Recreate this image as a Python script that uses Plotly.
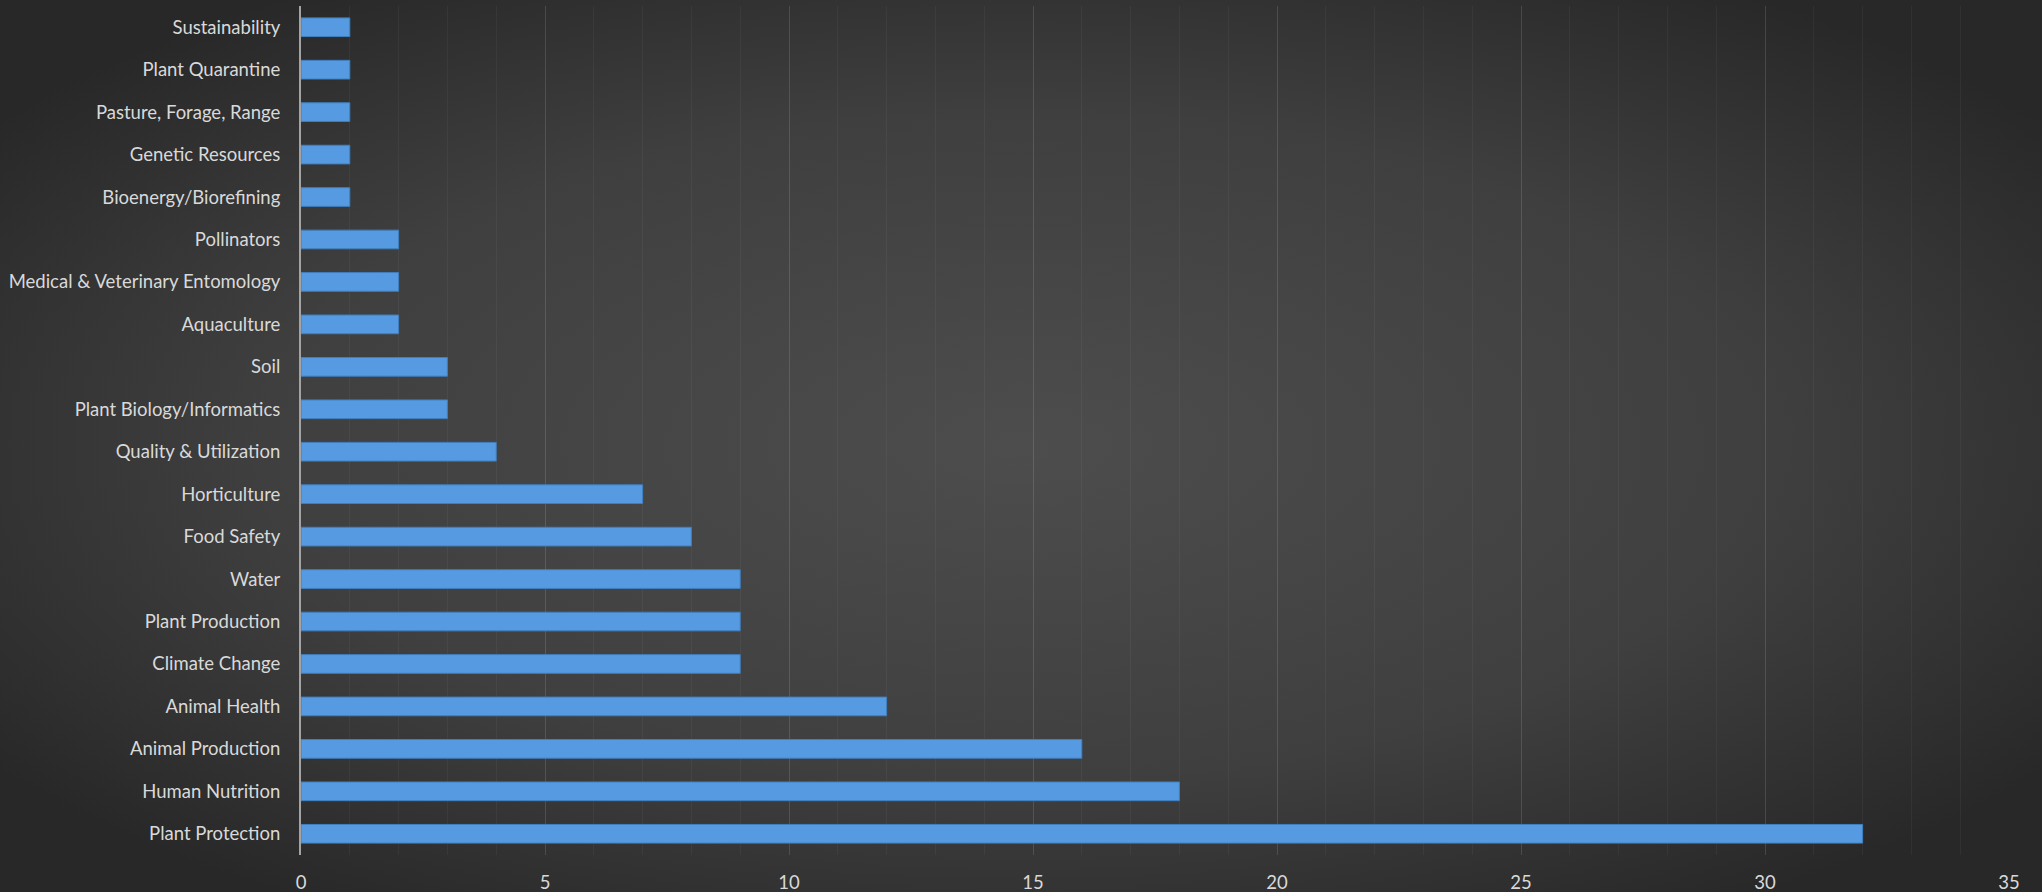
import base64
import plotly.graph_objects as go

categories = [
    "Plant Protection", "Human Nutrition", "Animal Production", "Animal Health",
    "Climate Change", "Plant Production", "Water", "Food Safety", "Horticulture",
    "Quality & Utilization", "Plant Biology/Informatics", "Soil", "Aquaculture",
    "Medical & Veterinary Entomology", "Pollinators", "Bioenergy/Biorefining",
    "Genetic Resources", "Pasture, Forage, Range", "Plant Quarantine", "Sustainability",
]
values = [32, 18, 16, 12, 9, 9, 9, 8, 7, 4, 3, 3, 2, 2, 2, 1, 1, 1, 1, 1]
x_ticks = [0, 5, 10, 15, 20, 25, 30, 35]

W, H = 2042, 892
L, R, T, B = 301, 33, 6, 37
pw, ph = W - L - R, H - T - B

svg = f'''<svg xmlns="http://www.w3.org/2000/svg" width="{W}" height="{H}" viewBox="0 0 {W} {H}">
<defs><radialGradient id="g" cx="0.5" cy="0.5" r="0.62" gradientUnits="objectBoundingBox">
<stop offset="0" stop-color="#4d4d4d"/><stop offset="0.6" stop-color="#3f3f3f"/><stop offset="1" stop-color="#282828"/>
</radialGradient></defs>
<rect width="{W}" height="{H}" fill="url(#g)"/></svg>'''
bg_uri = "data:image/svg+xml;base64," + base64.b64encode(svg.encode()).decode()

fig = go.Figure(go.Bar(
    x=values, y=categories, orientation="h",
    marker=dict(color="#569be1", line=dict(color="#3f7fc0", width=1)),
    width=0.44,
))

fig.update_layout(
    width=W, height=H,
    margin=dict(l=L, r=R, t=T, b=B, autoexpand=False),
    paper_bgcolor="#333333",
    plot_bgcolor="rgba(0,0,0,0)",
    font=dict(family="Lato, 'Open Sans', sans-serif", size=18.5, color="#d9d9d9"),
    showlegend=False,
    images=[dict(source=bg_uri, xref="paper", yref="paper",
                 x=-L / pw, y=1 + T / ph, sizex=W / pw, sizey=H / ph,
                 xanchor="left", yanchor="top", sizing="stretch", layer="below")],
    xaxis=dict(
        range=[0, 35], tickvals=x_ticks, ticktext=[str(v) for v in x_ticks],
        showgrid=True, gridcolor="rgba(255,255,255,0.09)", gridwidth=1,
        minor=dict(dtick=1, showgrid=True, gridcolor="rgba(255,255,255,0.045)", gridwidth=1),
        zeroline=False, showline=False, ticks="", ticklabelstandoff=14,
        tickfont=dict(size=18.5, color="#d9d9d9"), automargin=False,
    ),
    yaxis=dict(
        categoryorder="array", categoryarray=categories,
        range=[-0.5, len(categories) - 0.5],
        showgrid=False, zeroline=False, showline=True, linecolor="#a3a3a3", linewidth=2,
        ticks="", ticklabelstandoff=15, tickfont=dict(size=18.5, color="#d9d9d9"),
        automargin=False,
    ),
)

fig.write_html("out.html", config={"displayModeBar": False},
               post_script="document.body.style.margin='0';document.body.style.overflow='hidden';")
